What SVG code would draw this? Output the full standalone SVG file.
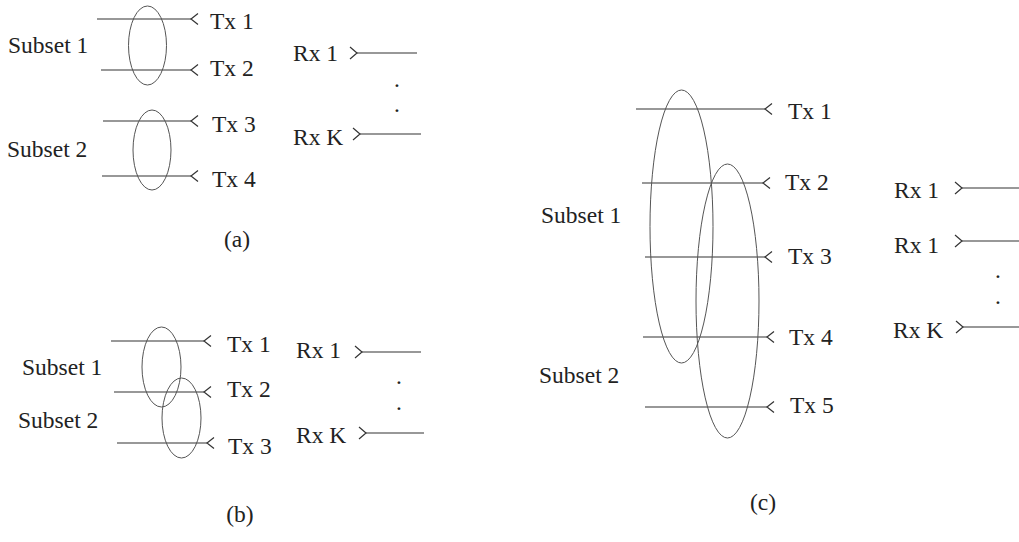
<svg xmlns="http://www.w3.org/2000/svg" width="1019" height="542" viewBox="0 0 1019 542">
<style>
text{font-family:"Liberation Serif","Times New Roman",serif;font-size:23.5px;fill:#222}
.w{stroke:#333;stroke-width:1.2;fill:none}
.e{stroke:#555;stroke-width:1;fill:none}
.lbl{text-anchor:middle}
</style>
<defs>
<marker id="tx" markerUnits="userSpaceOnUse" orient="auto" overflow="visible" markerWidth="10" markerHeight="12">
<path d="M7,-5.5 L0,0 L7,5.5" fill="none" stroke="#333" stroke-width="1.2"/>
</marker>
<marker id="rx" markerUnits="userSpaceOnUse" orient="auto" overflow="visible" markerWidth="10" markerHeight="12">
<path d="M-7,-6 L0,0 L-7,6" fill="none" stroke="#333" stroke-width="1.2"/>
</marker>
</defs>
<g id="connectors">
<!-- (a) -->
<line class="w" x1="97" y1="19" x2="191" y2="19" marker-end="url(#tx)"/>
<line class="w" x1="101" y1="70" x2="191" y2="70" marker-end="url(#tx)"/>
<line class="w" x1="103" y1="121" x2="191" y2="121" marker-end="url(#tx)"/>
<line class="w" x1="102" y1="176" x2="191" y2="176" marker-end="url(#tx)"/>
<line class="w" x1="357" y1="53" x2="417" y2="53" marker-start="url(#rx)"/>
<line class="w" x1="360" y1="134" x2="421" y2="134" marker-start="url(#rx)"/>
<!-- (b) -->
<line class="w" x1="111" y1="341" x2="204" y2="341" marker-end="url(#tx)"/>
<line class="w" x1="114" y1="392" x2="204" y2="392" marker-end="url(#tx)"/>
<line class="w" x1="117" y1="443" x2="207" y2="443" marker-end="url(#tx)"/>
<line class="w" x1="362" y1="352" x2="421" y2="352" marker-start="url(#rx)"/>
<line class="w" x1="366" y1="433" x2="424" y2="433" marker-start="url(#rx)"/>
<!-- (c) -->
<line class="w" x1="636" y1="109" x2="765" y2="109" marker-end="url(#tx)"/>
<line class="w" x1="642" y1="183" x2="763" y2="183" marker-end="url(#tx)"/>
<line class="w" x1="645" y1="257" x2="765" y2="257" marker-end="url(#tx)"/>
<line class="w" x1="643" y1="337" x2="767" y2="337" marker-end="url(#tx)"/>
<line class="w" x1="645" y1="407" x2="767" y2="407" marker-end="url(#tx)"/>
<line class="w" x1="962" y1="188" x2="1019" y2="188" marker-start="url(#rx)"/>
<line class="w" x1="962" y1="241" x2="1019" y2="241" marker-start="url(#rx)"/>
<line class="w" x1="963" y1="327" x2="1019" y2="327" marker-start="url(#rx)"/>
</g>
<g id="subsets-a">
<ellipse class="e" cx="147.5" cy="45.5" rx="19" ry="39.5"/>
<ellipse class="e" cx="152" cy="150" rx="19" ry="40"/>
</g>
<g id="subsets-b">
<ellipse class="e" cx="161.5" cy="367" rx="19.5" ry="40"/>
<ellipse class="e" cx="181.5" cy="418" rx="19.5" ry="40"/>
</g>
<g id="subsets-c">
<ellipse class="e" cx="681.5" cy="226.5" rx="31.5" ry="136.5"/>
<ellipse class="e" cx="727.5" cy="301" rx="31.5" ry="137"/>
</g>
<g id="labels-a">
<text x="8" y="53">Subset 1</text>
<text x="7" y="157">Subset 2</text>
<text x="210" y="29">Tx 1</text>
<text x="210" y="76">Tx 2</text>
<text x="212" y="132">Tx 3</text>
<text x="212" y="187">Tx 4</text>
<text x="293" y="61">Rx 1</text>
<text x="293" y="145">Rx K</text>
<text x="394" y="87">.</text>
<text x="394" y="112">.</text>
<text class="lbl" x="237" y="247">(a)</text>
</g>
<g id="labels-b">
<text x="22" y="375">Subset 1</text>
<text x="18" y="428">Subset 2</text>
<text x="227" y="352">Tx 1</text>
<text x="227" y="397">Tx 2</text>
<text x="228" y="454">Tx 3</text>
<text x="296" y="358">Rx 1</text>
<text x="296" y="443">Rx K</text>
<text x="396" y="384">.</text>
<text x="396" y="410">.</text>
<text class="lbl" x="240" y="522">(b)</text>
</g>
<g id="labels-c">
<text x="541" y="223">Subset 1</text>
<text x="539" y="383">Subset 2</text>
<text x="788" y="119">Tx 1</text>
<text x="785" y="190">Tx 2</text>
<text x="788" y="264">Tx 3</text>
<text x="789" y="345">Tx 4</text>
<text x="790" y="413">Tx 5</text>
<text x="894" y="198">Rx 1</text>
<text x="894" y="253">Rx 1</text>
<text x="893" y="338">Rx K</text>
<text x="995" y="278">.</text>
<text x="995" y="304">.</text>
<text class="lbl" x="763" y="510">(c)</text>
</g>
</svg>
